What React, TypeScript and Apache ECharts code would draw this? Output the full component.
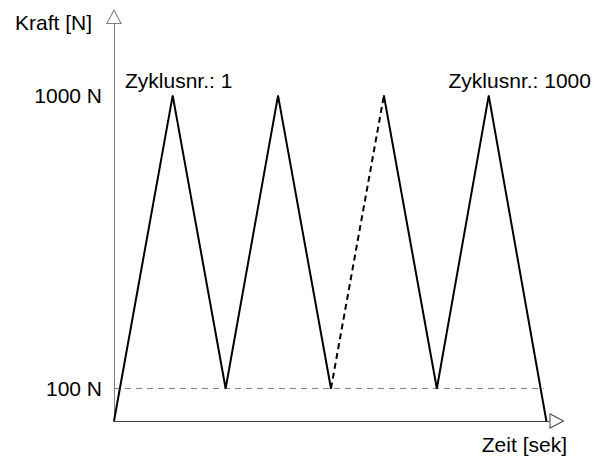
import React, { useEffect, useRef } from "react";
import * as echarts from "echarts";

// ---- data ----
const times = [0, 1.12, 2.13, 3.13, 4.14, 5.15, 6.16, 7.15, 8.25];
const forces = [0, 1000, 100, 1000, 100, 1000, 100, 1000, 0];
const yTickValues = [100, 1000];
const yTickLabels = ["100 N", "1000 N"];
const cycleLabelIndex = [1, 7];
const cycleLabels = ["Zyklusnr.: 1", "Zyklusnr.: 1000"];
const solidA = [0, 4]; // index range
const dashedSeg = [4, 5];
const solidB = [5, 8];
const baseLevel = 100;
const baseLineEnd = 8.2;
const xMax = 8.3;
const yMax = 1220;
const yName = "Kraft [N]";
const xName = "Zeit [sek]";

const FONT = "'Liberation Sans', Arial, sans-serif";
const arrowPath =
  "path://M8 0 L16 15 L0 15 Z M8 2.13 L1.67 14 L14.33 14 Z";

function pts(range: number[]) {
  const out: any[] = [];
  for (let i = range[0]; i <= range[1]; i++) {
    const li = cycleLabelIndex.indexOf(i);
    if (li >= 0) {
      out.push({
        value: [times[i], forces[i]],
        label: {
          show: true,
          formatter: cycleLabels[li],
          position: "top",
          distance: 4,
          offset: [li === 0 ? 6 : 31, 0],
          color: "#000",
          fontSize: 21,
          fontFamily: FONT,
        },
      });
    } else {
      out.push({ value: [times[i], forces[i]], label: { show: false } });
    }
  }
  return out;
}

export default function App() {
  const ref = useRef<HTMLDivElement>(null);
  useEffect(() => {
    if (!ref.current) return;
    const chart = echarts.init(ref.current, null, { renderer: "svg" });
    const lineBase = {
      type: "line",
      symbol: "circle",
      symbolSize: 1,
      showSymbol: true,
      itemStyle: { color: "#000" },
      silent: true,
      z: 5,
    };
    chart.setOption({
      animation: false,
      backgroundColor: "#fff",
      textStyle: { fontFamily: FONT },
      grid: {
        left: 114,
        right: 60,
        top: 24,
        bottom: 38,
        containLabel: false,
        outerBoundsMode: "none",
      },
      xAxis: {
        type: "value",
        min: 0,
        max: xMax,
        name: xName,
        nameLocation: "end",
        nameGap: 18,
        nameMoveOverlap: false,
        nameTextStyle: {
          align: "right",
          verticalAlign: "top",
          padding: [13, 0, 0, 0],
          fontSize: 21,
          color: "#000",
          fontFamily: FONT,
        },
        axisLine: {
          show: true,
          onZero: false,
          symbol: ["none", arrowPath],
          symbolSize: [16, 17],
          symbolOffset: [0, 8],
          lineStyle: { color: "#404040", width: 1 },
        },
        axisTick: { show: false },
        axisLabel: { show: false },
        splitLine: { show: false },
      },
      yAxis: {
        type: "value",
        min: 0,
        max: yMax,
        interval: 100,
        name: yName,
        nameLocation: "end",
        nameGap: 2,
        nameMoveOverlap: false,
        nameTextStyle: {
          align: "right",
          verticalAlign: "middle",
          padding: [0, 22, 0, 0],
          fontSize: 21,
          color: "#000",
          fontFamily: FONT,
        },
        axisLine: {
          show: true,
          onZero: false,
          symbol: ["none", arrowPath],
          symbolSize: [16, 15],
          symbolOffset: [0, 7.5],
          lineStyle: { color: "#808080", width: 1 },
        },
        axisTick: { show: false },
        splitLine: { show: false },
        axisLabel: {
          show: true,
          margin: 12,
          fontSize: 21,
          color: "#000",
          fontFamily: FONT,
          showMinLabel: true,
          showMaxLabel: true,
          formatter: (v: number) => {
            const i = yTickValues.indexOf(Math.round(v));
            return i >= 0 ? yTickLabels[i] : "";
          },
        },
      },
      series: [
        {
          type: "line",
          symbol: "none",
          silent: true,
          z: 3,
          data: [
            [0, baseLevel],
            [baseLineEnd, baseLevel],
          ],
          lineStyle: { color: "#808080", width: 1, type: [6, 5] },
        },
        {
          ...lineBase,
          data: pts(solidA),
          lineStyle: { color: "#000", width: 2 },
        },
        {
          ...lineBase,
          data: pts(dashedSeg),
          lineStyle: { color: "#000", width: 2, type: [6, 4] },
        },
        {
          ...lineBase,
          data: pts(solidB),
          lineStyle: { color: "#000", width: 2 },
        },
      ],
    });
    return () => chart.dispose();
  }, []);
  return (
    <div
      ref={ref}
      style={{
        position: "fixed",
        left: 0,
        top: 0,
        width: 609,
        height: 459,
        background: "#fff",
      }}
    />
  );
}
